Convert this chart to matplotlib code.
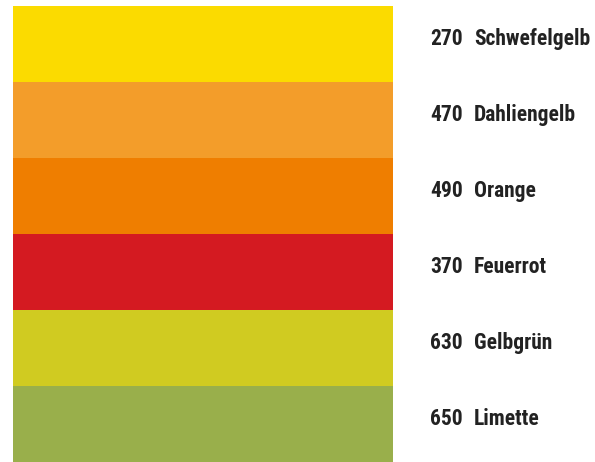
import matplotlib.pyplot as plt
from matplotlib import font_manager

codes = ["270", "470", "490", "370", "630", "650"]
names = ["Schwefelgelb", "Dahliengelb", "Orange", "Feuerrot", "Gelbgrün", "Limette"]
colors = ["#FBDB00", "#F39D2A", "#EF7E00", "#D41A21", "#D0CB21", "#99AF4B"]

# pick a narrow bold face if one is there
installed = {f.name for f in font_manager.fontManager.ttflist}
fam = "DejaVu Sans"
for cand in ["Roboto Condensed", "Open Sans Condensed", "Liberation Sans Narrow",
             "DejaVu Sans Condensed", "Lato", "Roboto"]:
    if cand in installed:
        fam = cand
        break

fig = plt.figure(figsize=(5.95, 4.62), dpi=100)
ax = fig.add_axes([13 / 595, 0.0, 380 / 595, 456 / 462])
ax.barh(range(len(codes)), [1] * len(codes), height=1, left=0, color=colors)
ax.set_xlim(0, 1)
ax.set_ylim(len(codes) - 0.5, -0.5)
ax.axis("off")

fs = 15.5
lbls = []
for i in range(len(codes)):
    t1 = ax.text(1.097, i - 0.07, codes[i], transform=ax.get_yaxis_transform(),
                 fontsize=fs, fontweight="bold", family=fam, color="#222222",
                 va="center", ha="left")
    t2 = ax.text(1.213, i - 0.07, names[i], transform=ax.get_yaxis_transform(),
                 fontsize=fs, fontweight="bold", family=fam, color="#222222",
                 va="center", ha="left")
    lbls.append((t1, t2))

# shrink only if the longest name would run off the right edge
r = fig.canvas.get_renderer()
while fs > 8:
    right = max(t2.get_window_extent(r).x1 for _, t2 in lbls)
    if right <= 592:
        break
    fs -= 0.25
    for t1, t2 in lbls:
        t1.set_fontsize(fs)
        t2.set_fontsize(fs)

fig.savefig("out.png", dpi=100)
